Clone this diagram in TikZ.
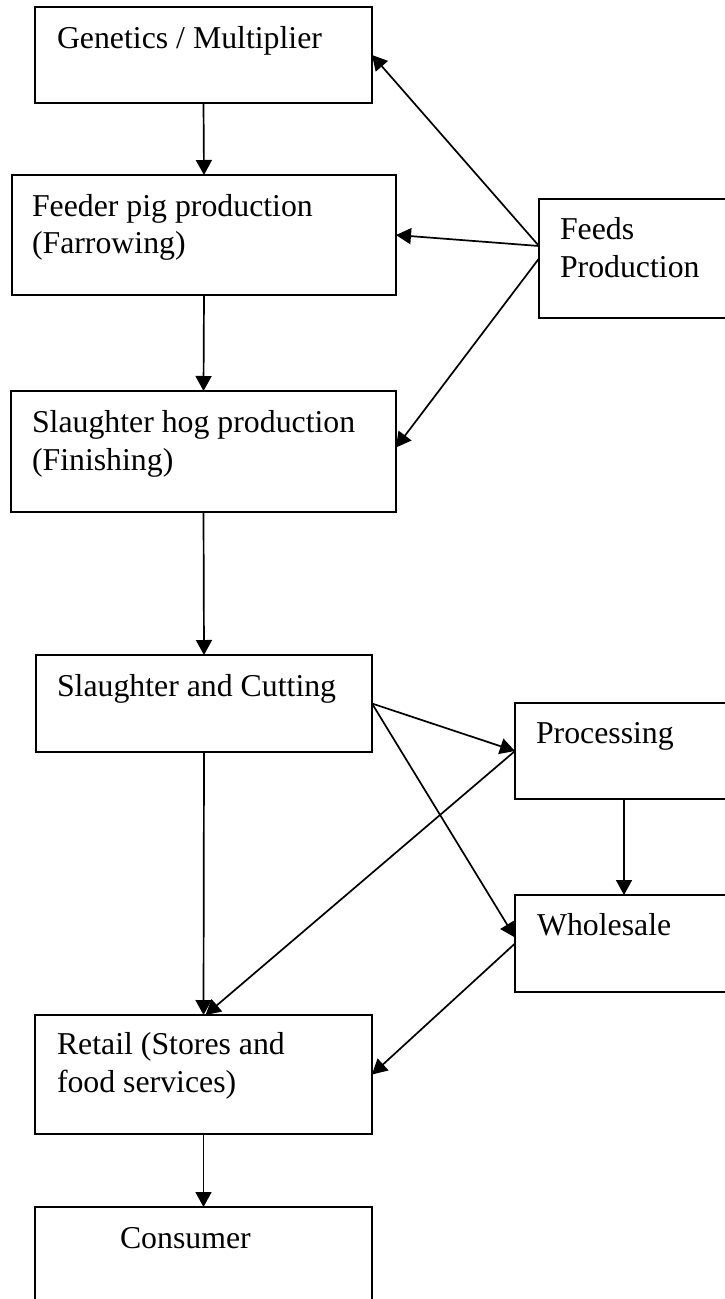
\documentclass[tikz,border=0pt]{standalone}
\usepackage{fontspec}
\setmainfont{Liberation Serif}
\usetikzlibrary{arrows.meta}
\tikzset{
  box/.style={draw=black, line width=2pt, fill=none, inner sep=0pt, outer sep=0pt},
  lbl/.style={anchor=base west, inner sep=0pt, outer sep=0pt, font=\fontsize{31.8}{38}\selectfont},
  conn/.style={line width=1.7pt, -{Triangle[length=15pt,width=16pt]}},
}
\begin{document}
\begin{tikzpicture}[x=1pt, y=-1pt]
\clip (0,0) rectangle (725,1299);
\fill[white] (0,0) rectangle (725,1299);
% boxes
\node[box, minimum width=337pt, minimum height=96pt] (gen) at (203.5,55) {};
\node[box, minimum width=384pt, minimum height=120pt] (feeder) at (204,235) {};
\node[box, minimum width=196pt, minimum height=119pt] (feeds) at (637,258.5) {};
\node[box, minimum width=385pt, minimum height=121pt] (hog) at (203.5,451.5) {};
\node[box, minimum width=336pt, minimum height=97pt] (sc) at (204,703.5) {};
\node[box, minimum width=218pt, minimum height=96pt] (proc) at (624,751) {};
\node[box, minimum width=218pt, minimum height=97pt] (whol) at (624,943.5) {};
\node[box, minimum width=337pt, minimum height=119pt] (retail) at (203.5,1074.5) {};
\node[box, minimum width=337pt, minimum height=100pt] (cons) at (203.5,1257) {};
% texts
\node[lbl] (genT) at (57,48) {Genetics / Multiplier};
\node[lbl] (feederT1) at (32,216) {Feeder pig production};
\node[lbl] (feederT2) at (32,253) {(Farrowing)};
\node[lbl] (feedsT1) at (560,239) {Feeds};
\node[lbl] (feedsT2) at (560,277) {Production};
\node[lbl] (hogT1) at (32,432) {Slaughter hog production};
\node[lbl] (hogT2) at (32,470) {(Finishing)};
\node[lbl] (scT) at (57,696) {Slaughter and Cutting};
\node[lbl] (procT) at (536,743) {Processing};
\node[lbl] (wholT) at (537,935) {Wholesale};
\node[lbl] (retailT1) at (57,1054) {Retail (Stores and};
\node[lbl] (retailT2) at (57,1092) {food services)};
\node[lbl] (consT) at (120,1248) {Consumer};
% connectors
\draw[conn] (gen.south) -- (feeder.north);
\draw[conn] (feeder.south) -- (hog.north);
\draw[conn] (hog.south) -- (sc.north);
\draw[conn] (sc.south) -- (retail.north);
\draw[conn] (retail.south) -- (cons.north);
\draw[conn] ([yshift=12.5pt]feeds.west) -- (gen.east);
\draw[conn] ([yshift=12.5pt]feeds.west) -- (feeder.east);
\draw[conn] (feeds.west) -- ([yshift=4pt]hog.east);
\draw[conn] (sc.east) -- (proc.west);
\draw[conn] (sc.east) -- ([yshift=6pt]whol.west);
\draw[conn] (proc.west) -- ([xshift=2pt]retail.north);
\draw[conn] (proc.south) -- (whol.north);
\draw[conn] (whol.west) -- (retail.east);
\end{tikzpicture}
\end{document}
